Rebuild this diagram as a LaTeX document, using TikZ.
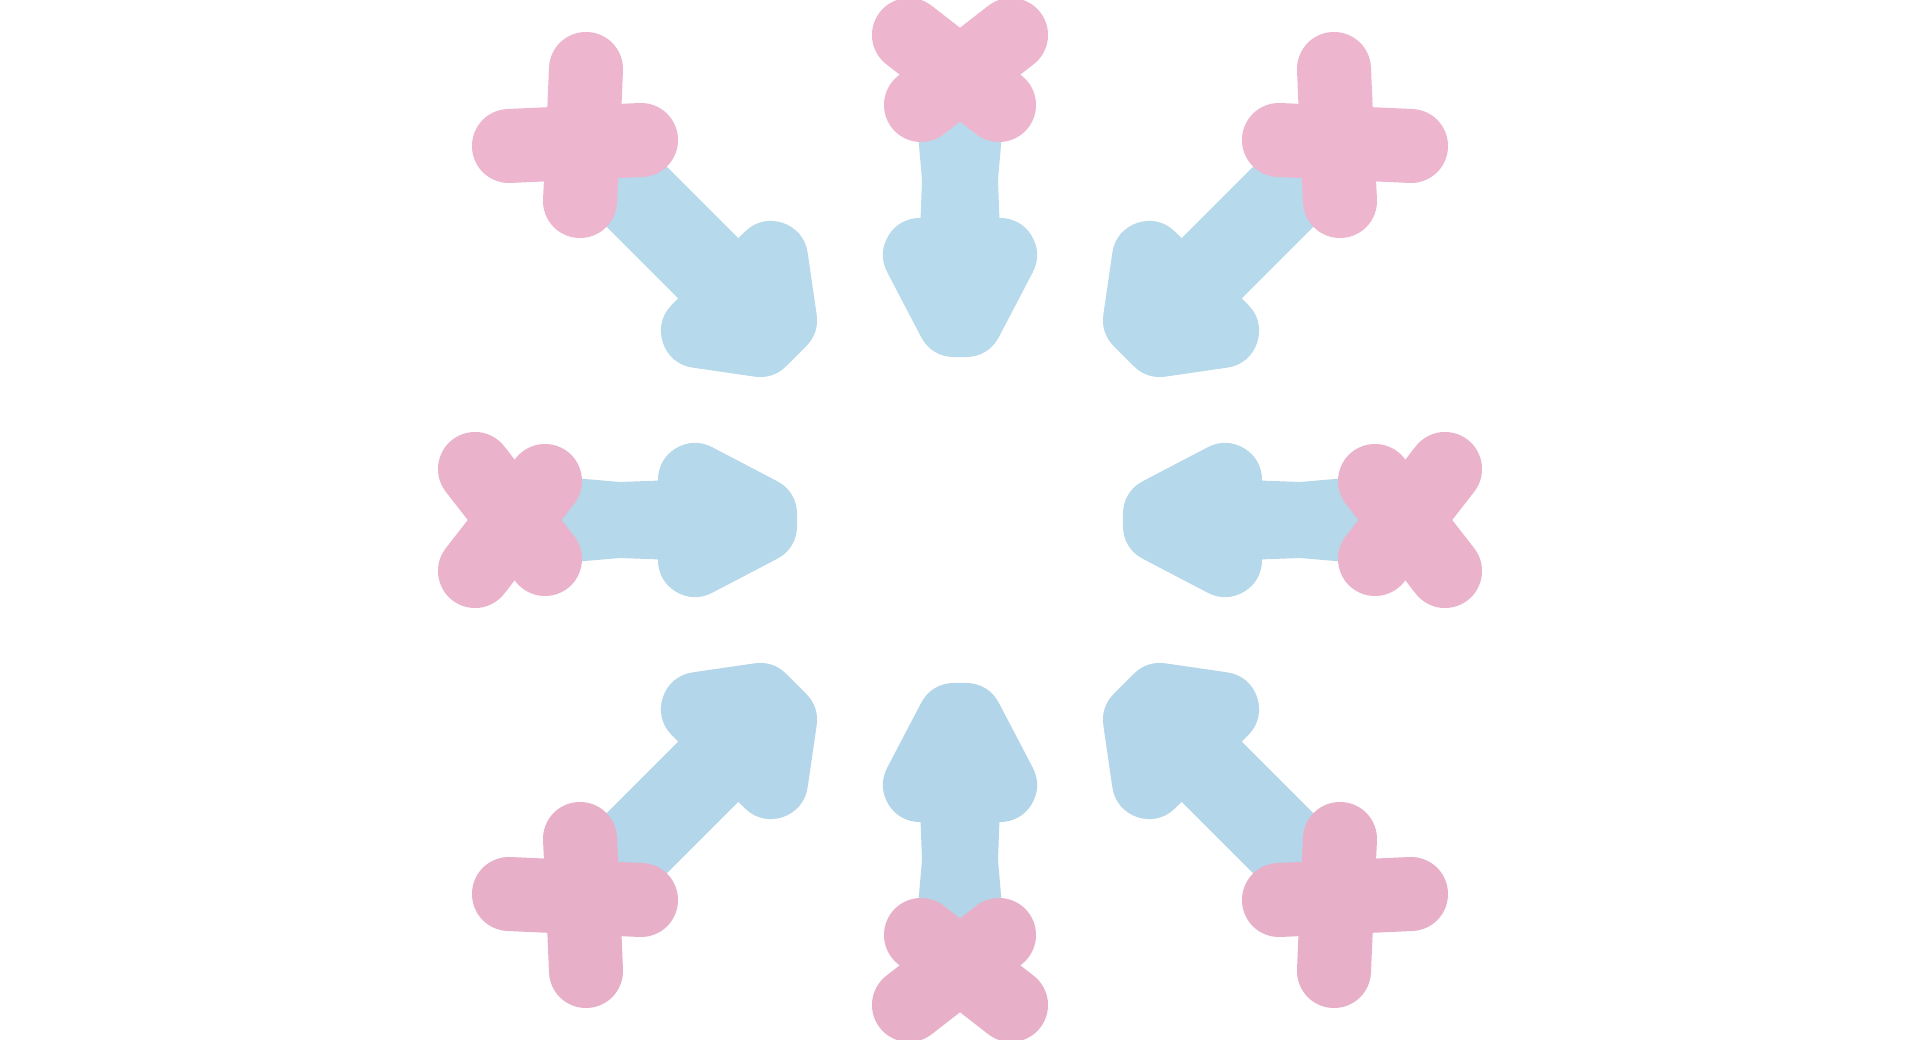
\documentclass[tikz,border=0pt]{standalone}
\definecolor{pinkT}{RGB}{238,182,206}
\definecolor{pinkU}{RGB}{237,181,205}
\definecolor{pinkM}{RGB}{235,179,203}
\definecolor{pinkD}{RGB}{233,177,201}
\definecolor{pinkB}{RGB}{232,176,200}
\definecolor{blueT}{RGB}{184,218,237}
\definecolor{blueU}{RGB}{182,217,236}
\definecolor{blueM}{RGB}{181,216,235}
\definecolor{blueD}{RGB}{180,214,234}
\definecolor{blueB}{RGB}{178,213,233}
\tikzset{
  xstroke/.style={line width=0.74cm, line cap=round, line join=round},
  headstroke/.style={line width=0.74cm, line join=round},
  shaftstroke/.style={line width=0.85cm, line cap=butt},
}
\begin{document}
\begin{tikzpicture}[x=0.01cm,y=-0.01cm]
\useasboundingbox (0,0) rectangle (1920,1040);
\fill[white] (0,0) rectangle (1920,1040);

% ---------- blue shafts and heads ----------
% top
\fill[blueT] (916,110) -- (922,180) -- (919,262) -- (1001,262) -- (998,180) -- (1004,110) -- cycle;
\filldraw[blueT, headstroke] (920,255) -- (1000,255) -- (966,320) -- (954,320) -- cycle;
% bottom
\fill[blueB] (916,930) -- (922,860) -- (919,778) -- (1001,778) -- (998,860) -- (1004,930) -- cycle;
\filldraw[blueB, headstroke] (920,785) -- (1000,785) -- (966,720) -- (954,720) -- cycle;
% left
\fill[blueM] (550,476) -- (620,482) -- (702,479) -- (702,561) -- (620,558) -- (550,564) -- cycle;
\filldraw[blueM, headstroke] (695,480) -- (695,560) -- (760,526) -- (760,514) -- cycle;
% right
\fill[blueM] (1370,476) -- (1300,482) -- (1218,479) -- (1218,561) -- (1300,558) -- (1370,564) -- cycle;
\filldraw[blueM, headstroke] (1225,480) -- (1225,560) -- (1160,526) -- (1160,514) -- cycle;
% top-left
\draw[blueU, shaftstroke] (583,143) -- (742,302);
\filldraw[blueU, headstroke] (771,258) -- (780,320) -- (760,340) -- (698,331) -- cycle;
% top-right
\draw[blueU, shaftstroke] (1337,143) -- (1178,302);
\filldraw[blueU, headstroke] (1149,258) -- (1140,320) -- (1160,340) -- (1222,331) -- cycle;
% bottom-left
\draw[blueD, shaftstroke] (583,897) -- (742,738);
\filldraw[blueD, headstroke] (771,782) -- (780,720) -- (760,700) -- (698,709) -- cycle;
% bottom-right
\draw[blueD, shaftstroke] (1337,897) -- (1178,738);
\filldraw[blueD, headstroke] (1149,782) -- (1140,720) -- (1160,700) -- (1222,709) -- cycle;

% ---------- pink marks ----------
% top X
\draw[pinkT, xstroke] (909,35) -- (999,105);
\draw[pinkT, xstroke] (1011,35) -- (921,105);
% bottom X
\draw[pinkB, xstroke] (909,1005) -- (999,935);
\draw[pinkB, xstroke] (1011,1005) -- (921,935);
% left X
\draw[pinkM, xstroke] (475,469) -- (545,559);
\draw[pinkM, xstroke] (475,571) -- (545,481);
% right X
\draw[pinkM, xstroke] (1445,469) -- (1375,559);
\draw[pinkM, xstroke] (1445,571) -- (1375,481);
% top-left plus
\draw[pinkT, xstroke] (586,69) -- (583,140) -- (580,201);
\draw[pinkT, xstroke] (509,146) -- (641,140);
% top-right plus
\draw[pinkT, xstroke] (1334,69) -- (1337,140) -- (1340,201);
\draw[pinkT, xstroke] (1411,146) -- (1279,140);
% bottom-left plus
\draw[pinkB, xstroke] (586,971) -- (583,900) -- (580,839);
\draw[pinkB, xstroke] (509,894) -- (641,900);
% bottom-right plus
\draw[pinkB, xstroke] (1334,971) -- (1337,900) -- (1340,839);
\draw[pinkB, xstroke] (1411,894) -- (1279,900);
\end{tikzpicture}
\end{document}
